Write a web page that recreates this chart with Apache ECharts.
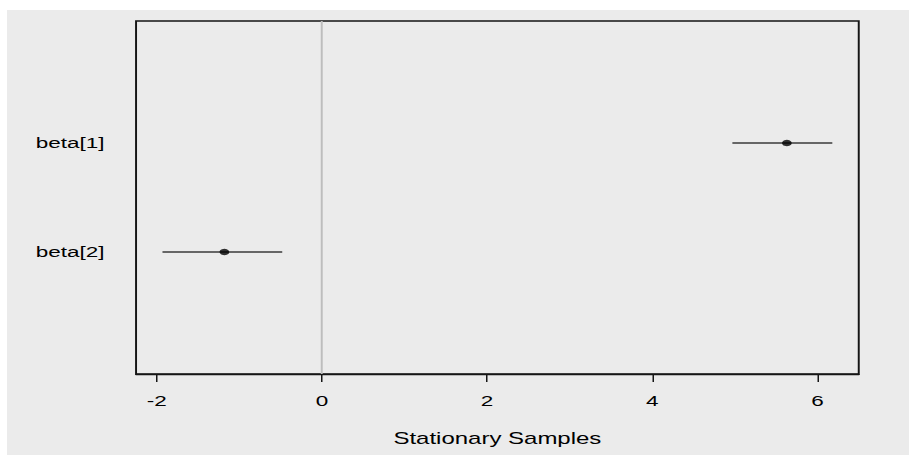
<!DOCTYPE html>
<html>
<head>
<meta charset="utf-8">
<script src="https://cdn.jsdelivr.net/npm/echarts@6/dist/echarts.min.js"></script>
<style>
  html, body { margin: 0; padding: 0; background: #ffffff; width: 909px; height: 455px; overflow: hidden; }
  #bg { position: absolute; left: 7px; top: 10px; width: 902px; height: 445px; background: #ebebeb; }
  #chart { position: absolute; left: 0; top: 0; width: 606px; height: 455px; transform: scaleX(1.5); transform-origin: 0 0; }
</style>
</head>
<body>
<div id="bg"></div>
<div id="chart"></div>
<script>
// Parameter names and their row positions (top to bottom)
const params = ['beta[1]', 'beta[2]'];
const rowPos = [1, 2];
// Posterior summaries
const means = [5.63, -1.18];
const lower = [4.97, -1.93];
const upper = [6.18, -0.48];
// Axis ticks
const xTicks = [-2, 0, 2, 4, 6];
const xTitle = 'Stationary Samples';

const FONT = '"Liberation Sans", Arial, sans-serif';

const chart = echarts.init(document.getElementById('chart'), null, { renderer: 'svg' });

const barSeries = params.map((p, i) => ({
  type: 'line',
  name: p,
  data: [[lower[i], rowPos[i]], [upper[i], rowPos[i]]],
  showSymbol: false,
  symbol: 'none',
  lineStyle: { color: '#666666', width: 1.8 },
  silent: true,
  z: 3
}));

const option = {
  animation: false,
  backgroundColor: 'transparent',
  grid: {
    left: 90.7, right: 33.5, top: 21, bottom: 81,
    show: true, borderColor: '#151515', borderWidth: 1.3,
    backgroundColor: 'transparent',
    outerBoundsMode: 'none'
  },
  xAxis: {
    type: 'value',
    position: 'bottom',
    min: -2.25, max: 6.5,
    name: xTitle,
    nameLocation: 'middle',
    nameGap: 57,
    nameTextStyle: { fontSize: 16, color: '#000', fontFamily: FONT },
    axisLine: { show: true, onZero: false, lineStyle: { color: '#151515', width: 1.3 } },
    axisTick: { show: true, customValues: xTicks, length: 8, lineStyle: { color: '#151515', width: 1 } },
    axisLabel: { customValues: xTicks, fontSize: 15, color: '#000', fontFamily: FONT, margin: 19 },
    splitLine: { show: false }
  },
  yAxis: {
    type: 'value',
    inverse: true,
    min: -0.12, max: 3.12,
    axisLine: { show: false, onZero: false },
    axisTick: { show: false },
    splitLine: { show: false },
    axisLabel: {
      customValues: rowPos,
      formatter: v => params[rowPos.indexOf(v)] || '',
      fontSize: 15, color: '#000', fontFamily: FONT, margin: 21
    }
  },
  series: [
    ...barSeries,
    {
      type: 'scatter',
      data: means.map((m, i) => [m, rowPos[i]]),
      symbol: 'circle',
      symbolSize: 6.5,
      itemStyle: { color: '#000' },
      silent: true,
      z: 4,
      markLine: {
        silent: true,
        symbol: ['none', 'none'],
        label: { show: false },
        lineStyle: { color: '#bdbdbd', width: 1.3, type: 'solid' },
        data: [{ xAxis: 0 }],
        z: 1
      }
    }
  ]
};
chart.setOption(option);
</script>
</body>
</html>
